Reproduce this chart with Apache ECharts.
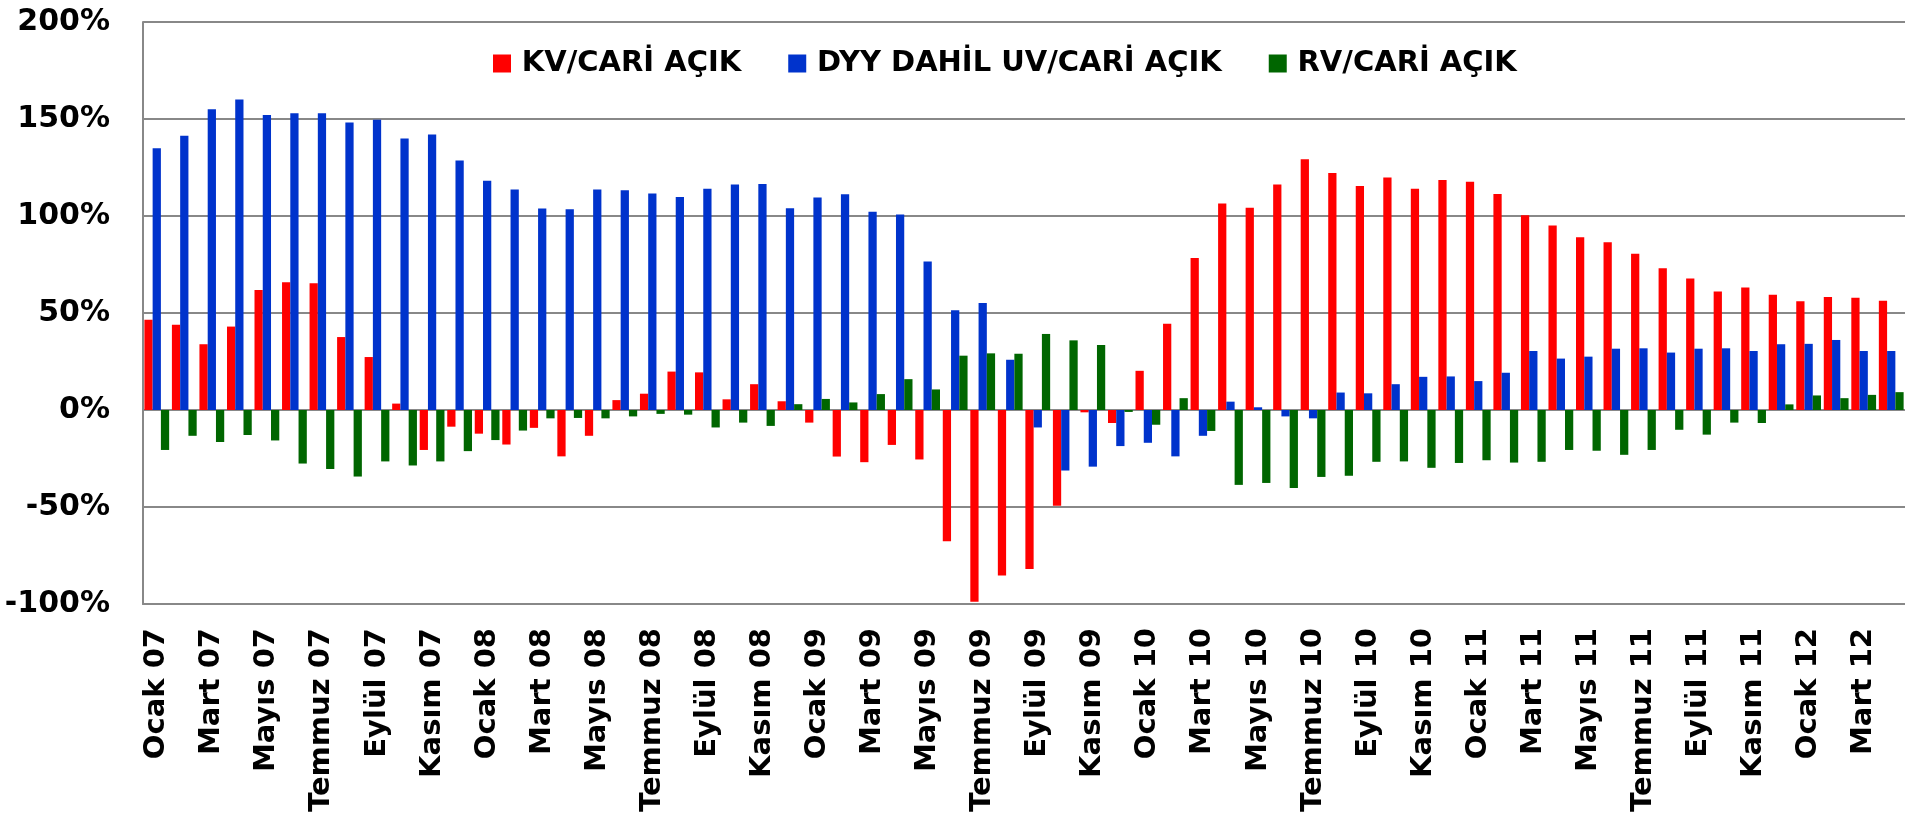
<!DOCTYPE html>
<html>
<head>
<meta charset="utf-8">
<script src="https://cdn.jsdelivr.net/npm/echarts@6/dist/echarts.min.js"></script>
<style>
html,body{margin:0;padding:0;background:#fff;}
#main{width:1905px;height:818px;}
</style>
</head>
<body>
<div id="main"></div>
<script>
var months = ['Ocak','Şubat','Mart','Nisan','Mayıs','Haziran','Temmuz','Ağustos','Eylül','Ekim','Kasım','Aralık'];
var years = ['07','08','09','10','11','12'];

// Ocak 07 .. Nisan 12
var categories = [];
for (var y = 0; y < years.length; y++) {
	for (var m = 0; m < 12; m++) {
		if (y == 5 && m > 3) break;
		categories.push(months[m] + ' ' + years[y]);
	}
}

var kvCari = [46.5,44,33.9,43,61.8,65.9,65.3,37.6,27.3,3.3,-20.6,-8.6,
	-12.2,-17.8,-9.2,-23.9,-13.3,5.1,8.4,19.8,19.4,5.5,13.3,4.5,
	-6.5,-24,-26.9,-18,-25.5,-67.6,-98.8,-85.3,-82,-49.4,-1.2,-6.7,
	20.2,44.5,78.4,106.5,104.3,116.3,129.2,122.2,115.5,119.8,114.1,118.6,
	117.6,111.4,100.4,95.1,89,86.5,80.6,73.1,67.8,61.1,63.1,59.4,
	56.1,58.2,57.8,56.3];
var uvCari = [134.9,141.4,155,160,152,152.9,153,148.2,149.6,140,142,128.6,
	118.2,113.7,103.9,103.5,113.7,113.3,111.6,109.8,114.1,116.3,116.5,104,
	109.6,111.2,102.2,100.8,76.5,51.4,55.1,25.9,-9,-31.2,-29.2,-18.6,
	-16.9,-23.9,-13.3,4.3,1.4,-3.3,-4.3,9,8.6,13.3,17.1,17.3,
	14.9,19.2,30.4,26.5,27.5,31.6,31.8,29.6,31.6,31.8,30.4,33.9,
	34.1,36.1,30.4,30.4];
var rvCari = [-20.6,-13.3,-16.5,-12.9,-15.7,-27.6,-30.4,-34.3,-26.5,-28.6,-26.5,-21.2,
	-15.5,-10.6,-4.3,-4.1,-4.3,-3.3,-2,-2.4,-9,-6.5,-8.2,3,
	5.7,3.9,8.2,15.9,10.6,28,29.2,29,39.2,35.9,33.5,-1,
	-7.6,6.1,-10.8,-38.6,-37.6,-40.2,-34.5,-33.9,-26.7,-26.5,-29.8,-27.3,
	-25.9,-27.1,-26.7,-20.6,-21,-23.1,-20.6,-10.2,-12.7,-6.5,-6.7,2.9,
	7.5,6.1,7.8,9.2];

var font = 'DejaVu Sans';
var myChart = echarts.init(document.getElementById('main'));
var option = {
	animation: false,
	color: ['#ff0000','#0033cc','#006600'],
	legend: {
		left: 488,
		top: 44,
		itemWidth: 18,
		itemHeight: 18,
		itemGap: 47,
		icon: 'rect',
		formatter: function(name){ return '\u2009' + name; },
		textStyle: {fontFamily: font, fontWeight: 'bold', fontSize: 29, color: '#000'},
		data: ['KV/CARİ AÇIK','DYY DAHİL UV/CARİ AÇIK','RV/CARİ AÇIK']
	},
	grid: {left: 143, top: 22, right: -1, bottom: 214},
	xAxis: {
		type: 'category',
		data: categories,
		axisLine: {onZero: false, lineStyle: {color: '#888', width: 2}},
		axisTick: {show: false},
		axisLabel: {
			interval: 1,
			rotate: 90,
			margin: 24,
			fontFamily: font,
			fontWeight: 'bold',
			fontSize: 29,
			color: '#000'
		}
	},
	yAxis: {
		type: 'value',
		min: -100,
		max: 200,
		interval: 50,
		axisLine: {show: true, lineStyle: {color: '#888', width: 2}},
		axisTick: {show: false},
		splitLine: {lineStyle: {color: '#888', width: 2}},
		axisLabel: {
			formatter: '{value}%',
			margin: 33,
			fontFamily: font,
			fontWeight: 'bold',
			fontSize: 30,
			color: '#000'
		}
	},
	series: [
		{name: 'KV/CARİ AÇIK', type: 'bar', data: kvCari, barGap: '0%', barCategoryGap: '10%'},
		{name: 'DYY DAHİL UV/CARİ AÇIK', type: 'bar', data: uvCari},
		{name: 'RV/CARİ AÇIK', type: 'bar', data: rvCari}
	]
};
myChart.setOption(option);
</script>
</body>
</html>
